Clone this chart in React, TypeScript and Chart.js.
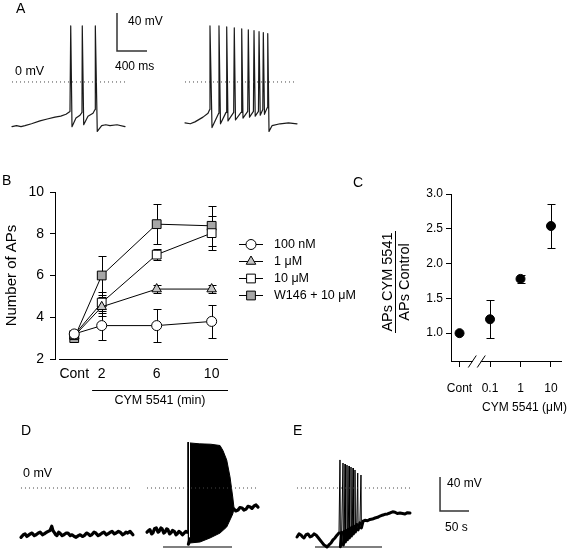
import React, { useEffect, useRef } from 'react';
import { Chart, registerables } from 'chart.js';

Chart.register(...registerables);

const FONT = '"Liberation Sans", Arial, Helvetica, sans-serif';
Chart.defaults.font.family = FONT;
Chart.defaults.color = '#000';

// ================= Panel B data (number of APs vs time) =================
const bTimes = [0, 2, 6, 10]; // minutes, 0 = control
const bTickLabels = ['Cont', '2', '6', '10'];
const bLabels = ['100 nM', '1 μM', '10 μM', 'W146 + 10 μM'];
const b100nM = [3.2, 3.6, 3.6, 3.8];
const b100nMErr = [0.15, 0.7, 0.8, 0.8];
const b1uM = [3.1, 4.5, 5.35, 5.35];
const b1uMErr = [0.12, 0.45, 0.19, 0.19];
const b10uM = [3.15, 4.7, 7.0, 8.03];
const b10uMErr = [0.12, 0.5, 0.25, 0.83];
const bW146 = [3.0, 6.0, 8.46, 8.38];
const bW146Err = [0.1, 0.93, 0.96, 0.95];

// ================= Panel C data (ratio vs dose) =================
const cDoses = [0.01, 0.1, 1, 10]; // 0.01 stands for control position
const cTickLabels = ['Cont', '0.1', '1', '10'];
const cRatio = [1.0, 1.2, 1.78, 2.54];
const cRatioErr = [0, 0.27, 0.06, 0.31];
const cYTicks = [1.0, 1.5, 2.0, 2.5, 3.0];

// ================= Panel A traces [ms, mV] =================
const aLeftTrace = [
  [0, -47], [60, -46], [120, -47], [173, -46], [260, -44], [373, -41], [470, -39], [573, -37],
  [650, -36], [720, -34], [773, -31],
  [783, 59], [800, -47], [853, -38], [907, -35], [933, -32],
  [937, 59], [956, -45], [1013, -36], [1080, -33], [1107, -29],
  [1111, 59], [1137, -52], [1196, -46], [1250, -45], [1307, -46], [1400, -45], [1507, -47],
];
const aRightTrace = [
  [0, -43], [70, -44], [133, -42], [240, -37], [307, -33], [329, -29],
  [333, 59], [360, -48], [449, -33],
  [453, 59], [473, -44], [547, -32],
  [556, 58], [573, -41], [649, -32],
  [657, 57], [673, -40], [747, -32],
  [756, 56], [773, -38], [836, -31],
  [844, 55], [860, -37], [912, -31],
  [920, 54], [936, -36], [979, -31],
  [987, 53], [1003, -35], [1037, -29],
  [1044, 52], [1059, -34], [1096, -27],
  [1103, 51], [1120, -52], [1160, -46], [1267, -44], [1380, -43], [1493, -44],
];
const aZeroLeft = [[0, 0], [1507, 0]];
const aZeroRight = [[0, 0], [1493, 0]];
const aScaleBar = [[1800, 32.6], [1400, 32.6], [1400, 72.6]]; // 400 ms, 40 mV

// ================= Panel D / E traces [s, mV] =================
const dLeftTrace = [
  [0, -58], [4, -55], [7, -54], [10, -57], [12, -56], [16, -54], [19, -53], [23, -56], [26, -55],
  [30, -53], [33, -52], [37, -55], [40, -54], [44, -52], [47, -51], [50, -50], [53, -45], [55, -50],
  [57, -52], [60, -55], [62, -56], [65, -52], [67, -53], [71, -56], [74, -55], [78, -53], [81, -53],
  [85, -56], [88, -55], [92, -57], [95, -58], [99, -56], [102, -55], [106, -57], [109, -56],
  [113, -53], [116, -54], [119, -56], [122, -55], [126, -52], [129, -53], [133, -56], [136, -55],
  [140, -53], [143, -52], [147, -55], [150, -54], [154, -52], [157, -51], [161, -54], [164, -53],
  [168, -51], [171, -52], [175, -55], [178, -54], [181, -52], [184, -53], [188, -51], [193, -55],
];
const dRightTrace = [
  [0, -52], [3, -50], [5, -49], [8, -54], [10, -53], [13, -48], [16, -47], [19, -52], [21, -51],
  [24, -47], [26, -48], [29, -53], [31, -52], [34, -48], [36, -49], [39, -54], [41, -53], [44, -50],
  [47, -51], [50, -55], [52, -54], [55, -51], [57, -52], [61, -55], [64, -53], [67, -51], [69, -52],
  [70.2, -52], [70.7, 54], [71.4, -66], [74.1, -60],
  [150, -24.7], [153, -27], [157, -25.9], [160, -23], [164, -23.5], [167, -26], [171, -24.7],
  [174, -21.5], [178, -22.4], [181, -24], [184.5, -21.2], [188, -20], [191.4, -22.4],
];
const dBurstTop = [
  [74.1, 53], [90, 52], [110, 51.5], [125.9, 50], [131, 44], [137.4, 33], [143.1, 13],
  [147.8, -10.6], [150, -23.5],
];
const dBurstBottom = [
  [74.1, -64.7], [91.4, -63.5], [108.6, -58.8], [125.9, -53], [137.4, -45.9], [143.1, -37.6],
  [147.8, -30.6], [150, -24.7],
];
const eTrace = [
  [0, -57.6], [3.5, -54], [6.9, -55.3], [9.5, -57.5], [12.1, -58.8], [15.5, -55], [19, -54.1],
  [22.5, -57.5], [25.9, -56.5], [29.3, -54], [32.8, -55.3], [36, -58], [39.7, -61.2], [43, -64],
  [46.6, -67.1], [49, -68], [51.7, -69.4], [55, -67], [58.6, -64.7], [62, -61], [65.5, -58.8],
  [69, -55.5], [72.4, -52.9],
  [74.1, 33], [74.8, -69], [77, -52],
  [79.3, 29.4], [80, -67], [81.5, -51],
  [82.8, 28.2], [83.5, -63.5], [85, -50],
  [86.2, 27], [86.9, -61], [88.5, -48.5],
  [89.7, 25.9], [90.4, -58.8], [92, -47],
  [93.1, 24.7], [93.8, -56.5], [95.4, -46],
  [96.6, 23.5], [97.3, -54], [98.8, -45],
  [100, 21.2], [100.7, -51.8], [103, -43],
  [104.7, 17.6], [105.4, -49.4], [108.5, -41],
  [110.3, 15.3], [111, -47], [114, -39],
  [117.2, -38], [121.5, -38.5], [125.9, -37], [130, -36.5], [134.5, -35.3], [139, -34.5],
  [143.1, -33], [147, -32], [151.7, -31], [156, -30.5], [160.3, -29.4], [165, -28],
  [169, -28.5], [173, -30], [177.6, -29.4], [182, -30], [186.2, -30.6], [190.5, -29], [194.8, -29.4],
];
const dZeroLeft = [[0, 0], [193, 0]];
const dZeroRight = [[0, 0], [191, 0]];
const eZero = [[0, 0], [195, 0]];
const dDrugBar = [[27.6, -69.4], [146.6, -69.4]];
const eDrugBar = [[31, -69.4], [146.6, -69.4]];
const eScaleBar = [[246.6, 12.9], [246.6, -27.1], [296.6, -27.1]]; // 40 mV, 50 s

// ================= helpers =================
const xy = (a: number[][]) => a.map(([x, y]) => ({ x, y }));
const traceDS = (a: number[][], w = 1, color = '#1a1a1a') => ({
  data: xy(a), borderColor: color, borderWidth: w, pointRadius: 0, fill: false,
  borderJoinStyle: 'round', borderCapStyle: 'round',
});
const thickTraceDS = (a: number[][], w = 3.2) => ({
  ...traceDS(a, w, '#000'),
  segment: {
    borderWidth: (c: any) => (Math.abs(c.p1.parsed.y - c.p0.parsed.y) > 25 ? 1 : w),
  },
});
const dotDS = (a: number[][]) => ({
  data: xy(a), borderColor: '#444', borderWidth: 1, borderDash: [1, 3], pointRadius: 0, fill: false,
});
const barDS = (a: number[][], color = '#555', w = 1.5) => ({
  data: xy(a), borderColor: color, borderWidth: w, pointRadius: 0, fill: false,
});

function traceChart(xMin: number, xMax: number, yMin: number, yMax: number, datasets: any[]) {
  return () => ({
    type: 'line',
    data: { datasets },
    options: {
      animation: false, responsive: false, events: [],
      layout: { padding: 0 },
      plugins: { legend: { display: false }, tooltip: { enabled: false } },
      scales: {
        x: { type: 'linear', min: xMin, max: xMax, display: false },
        y: { type: 'linear', min: yMin, max: yMax, display: false },
      },
      elements: { point: { radius: 0 }, line: { tension: 0 } },
    },
  });
}

function marker(ctx: CanvasRenderingContext2D, style: string, x: number, y: number, r: number, fill: string) {
  ctx.beginPath();
  if (style === 'circle') {
    ctx.arc(x, y, r, 0, Math.PI * 2);
  } else if (style === 'triangle') {
    let rad = 0;
    ctx.moveTo(x + Math.sin(rad) * r, y - Math.cos(rad) * r);
    rad += (2 * Math.PI) / 3;
    ctx.lineTo(x + Math.sin(rad) * r, y - Math.cos(rad) * r);
    rad += (2 * Math.PI) / 3;
    ctx.lineTo(x + Math.sin(rad) * r, y - Math.cos(rad) * r);
  } else {
    const s = r * Math.SQRT1_2;
    ctx.rect(x - s, y - s, 2 * s, 2 * s);
  }
  ctx.closePath();
  ctx.fillStyle = fill;
  ctx.fill();
  ctx.strokeStyle = '#000';
  ctx.lineWidth = 1;
  ctx.stroke();
}

const errorBars = {
  id: 'errbars',
  beforeDatasetsDraw(chart: any, _a: any, opts: any) {
    const { ctx, scales } = chart;
    const xs = scales.x, ys = scales.y;
    const cap = opts && opts.cap ? opts.cap : 4;
    ctx.save();
    ctx.strokeStyle = '#000';
    ctx.lineWidth = 1;
    chart.data.datasets.forEach((ds: any) => {
      if (!ds.errors) return;
      ds.data.forEach((p: any, j: number) => {
        const e = ds.errors[j];
        if (!e) return;
        const px = Math.round(xs.getPixelForValue(p.x)) + 0.5;
        const y1 = Math.round(ys.getPixelForValue(p.y + e)) + 0.5;
        const y2 = Math.round(ys.getPixelForValue(p.y - e)) + 0.5;
        ctx.beginPath();
        ctx.moveTo(px, y1); ctx.lineTo(px, y2);
        ctx.moveTo(px - cap, y1); ctx.lineTo(px + cap, y1);
        ctx.moveTo(px - cap, y2); ctx.lineTo(px + cap, y2);
        ctx.stroke();
      });
    });
    ctx.restore();
  },
};

const bExtras = {
  id: 'bExtras',
  afterDraw(chart: any) {
    const { ctx, chartArea, scales } = chart;
    const xs = scales.x;
    ctx.save();
    ctx.strokeStyle = '#000';
    ctx.lineWidth = 1;
    const yb = Math.round(chartArea.bottom) + 0.5;
    ctx.beginPath();
    ctx.moveTo(chartArea.left + 4, yb);
    ctx.lineTo(chartArea.right, yb);
    ctx.stroke();
    const yl = yb + 31;
    ctx.beginPath();
    ctx.moveTo(xs.getPixelForValue(1.3), yl);
    ctx.lineTo(chartArea.right, yl);
    ctx.stroke();
    chart.data.datasets.forEach((ds: any, i: number) => {
      const ly = 74 + 17 * i + 0.5;
      ctx.strokeStyle = '#000';
      ctx.lineWidth = 1;
      ctx.beginPath();
      ctx.moveTo(239, ly);
      ctx.lineTo(263, ly);
      ctx.stroke();
      marker(ctx, ds.pointStyle, 251, ly, ds.pointRadius, ds.pointBackgroundColor);
      ctx.fillStyle = '#000';
      ctx.font = `12.5px ${FONT}`;
      ctx.textBaseline = 'middle';
      ctx.fillText(ds.label, 274, ly);
    });
    ctx.restore();
  },
};

const cExtras = {
  id: 'cExtras',
  afterDraw(chart: any) {
    const { ctx, chartArea, scales } = chart;
    const xs = scales.x;
    const cx = (xs.getPixelForValue(cDoses[0]) + xs.getPixelForValue(cDoses[1])) / 2 + 2;
    const y = Math.round(chartArea.bottom) + 0.5;
    ctx.save();
    ctx.strokeStyle = '#fff';
    ctx.lineWidth = 3;
    ctx.beginPath();
    ctx.moveTo(cx - 4, y);
    ctx.lineTo(cx + 4, y);
    ctx.stroke();
    ctx.strokeStyle = '#000';
    ctx.lineWidth = 1;
    [-4.5, 4.5].forEach((d) => {
      ctx.beginPath();
      ctx.moveTo(cx + d - 4, y + 6);
      ctx.lineTo(cx + d + 4, y - 6);
      ctx.stroke();
    });
    ctx.restore();
  },
};

function bConfig() {
  const series = [
    { values: b100nM, errors: b100nMErr, style: 'circle', fill: '#ffffff', r: 5 },
    { values: b1uM, errors: b1uMErr, style: 'triangle', fill: '#c4c4c4', r: 5.5 },
    { values: b10uM, errors: b10uMErr, style: 'rect', fill: '#ffffff', r: 6.2 },
    { values: bW146, errors: bW146Err, style: 'rect', fill: '#a6a6a6', r: 6.2 },
  ];
  const datasets = series.map((s, k) => ({
    label: bLabels[k],
    data: bTimes.map((t, i) => ({ x: t, y: s.values[i] })),
    errors: s.errors,
    borderColor: '#000',
    borderWidth: 1,
    pointStyle: s.style,
    pointRadius: s.r,
    pointBackgroundColor: s.fill,
    pointBorderColor: '#000',
    pointBorderWidth: 1,
    tension: 0,
    fill: false,
  }));
  return {
    type: 'line',
    data: { datasets },
    options: {
      animation: false, responsive: false, events: [],
      layout: { padding: { top: 22, right: 127, left: 0, bottom: 0 } },
      plugins: { legend: { display: false }, tooltip: { enabled: false }, errbars: { cap: 4 } },
      scales: {
        x: {
          type: 'linear', min: -1.4, max: 11.19,
          afterBuildTicks: (s: any) => { s.ticks = bTimes.map((v) => ({ value: v })); },
          afterFit: (s: any) => { s.height = 61; },
          grid: { display: false, drawTicks: false },
          border: { display: false },
          ticks: {
            callback: (_v: any, i: number) => bTickLabels[i],
            font: { size: 14, family: FONT }, color: '#000', padding: 7,
            maxRotation: 0, autoSkip: false,
          },
        },
        y: {
          type: 'linear', min: 2, max: 10,
          afterFit: (s: any) => { s.width = 55; },
          ticks: { stepSize: 2, font: { size: 14, family: FONT }, color: '#000', padding: 6 },
          grid: { display: true, drawOnChartArea: false, drawTicks: true, tickLength: 5, color: '#000' },
          border: { display: true, color: '#000', width: 1 },
          title: {
            display: true, text: 'Number of APs', color: '#000',
            font: { size: 15, family: FONT }, padding: { top: 3, bottom: 0 },
          },
        },
      },
    },
    plugins: [errorBars, bExtras],
  };
}

function cConfig() {
  return {
    type: 'line',
    data: {
      datasets: [{
        data: cDoses.map((d, i) => ({ x: d, y: cRatio[i] })),
        errors: cRatioErr,
        showLine: false,
        pointStyle: 'circle',
        pointRadius: 4.5,
        pointBackgroundColor: '#000',
        pointBorderColor: '#000',
        pointBorderWidth: 1,
      }],
    },
    options: {
      animation: false, responsive: false, events: [],
      layout: { padding: { top: 24, right: 0, left: 0, bottom: 0 } },
      plugins: { legend: { display: false }, tooltip: { enabled: false }, errbars: { cap: 4 } },
      scales: {
        x: {
          type: 'logarithmic', min: 0.00525, max: 22.1,
          afterBuildTicks: (s: any) => { s.ticks = cDoses.map((v) => ({ value: v })); },
          afterFit: (s: any) => { s.height = 59; },
          grid: { display: true, drawOnChartArea: false, drawTicks: true, tickLength: 6, color: '#000' },
          border: { display: true, color: '#000', width: 1 },
          ticks: {
            callback: (_v: any, i: number) => cTickLabels[i],
            font: { size: 12, family: FONT, lineHeight: 3.1 }, color: '#000', padding: 3,
            maxRotation: 0, autoSkip: false,
          },
        },
        y: {
          type: 'linear', min: 0.6, max: 3.0,
          afterBuildTicks: (s: any) => { s.ticks = cYTicks.map((v) => ({ value: v })); },
          afterFit: (s: any) => { s.width = 91; },
          ticks: {
            callback: (v: any) => Number(v).toFixed(1),
            font: { size: 12, family: FONT }, color: '#000', padding: 3,
          },
          grid: { display: true, drawOnChartArea: false, drawTicks: true, tickLength: 5, color: '#000' },
          border: { display: true, color: '#000', width: 1 },
        },
      },
    },
    plugins: [errorBars, cExtras],
  };
}

function ChartCanvas({ left, top, width, height, make }: any) {
  const ref = useRef<HTMLCanvasElement>(null);
  useEffect(() => {
    const chart = new Chart(ref.current as HTMLCanvasElement, make() as any);
    return () => chart.destroy();
  }, []);
  return (
    <canvas
      ref={ref}
      width={width}
      height={height}
      style={{ position: 'absolute', left, top, width, height }}
    />
  );
}

function Label({ text, left, cy, size = 12, style = {} }: any) {
  return (
    <div
      style={{
        position: 'absolute', left, top: cy - size * 0.6, fontSize: size,
        lineHeight: `${size * 1.2}px`, whiteSpace: 'nowrap', fontFamily: FONT, color: '#000',
        ...style,
      }}
    >
      {text}
    </div>
  );
}

// Panel A scale: 0.075 px/ms, 0.95 px/mV ; Panel D/E: 0.58 px/s, 0.85 px/mV
const aLeftChart = traceChart(-160, 2240, -71.6, 86.3, [
  dotDS(aZeroLeft), traceDS(aLeftTrace, 1.2), barDS(aScaleBar, '#333', 1.5),
]);
const aRightChart = traceChart(-66.7, 1533, -71.6, 86.3, [
  dotDS(aZeroRight), traceDS(aRightTrace, 1.2),
]);
const dLeftChart = traceChart(-36.2, 205.2, -72.94, 80, [
  dotDS(dZeroLeft), thickTraceDS(dLeftTrace, 3.2),
]);
const dRightChart = traceChart(-12.07, 229.3, -72.94, 80, [
  dotDS(dZeroRight),
  thickTraceDS(dRightTrace, 3.2),
  { data: xy(dBurstTop), borderColor: '#000', borderWidth: 1, pointRadius: 0, fill: false },
  { data: xy(dBurstBottom), borderColor: '#000', borderWidth: 1, pointRadius: 0, fill: '-1', backgroundColor: '#000' },
  barDS(dDrugBar),
]);
const eChart = traceChart(-29.31, 350, -72.94, 80, [
  dotDS(eZero), thickTraceDS(eTrace, 3), barDS(eDrugBar), barDS(eScaleBar, '#333', 1.5),
]);

export default function App() {
  return (
    <div style={{ position: 'absolute', left: 0, top: 0, width: 567, height: 550, background: '#fff', overflow: 'hidden', fontFamily: FONT }}>
      <ChartCanvas left={0} top={0} width={180} height={150} make={aLeftChart} />
      <ChartCanvas left={180} top={0} width={120} height={150} make={aRightChart} />
      <ChartCanvas left={0} top={170} width={355} height={250} make={bConfig} />
      <ChartCanvas left={360} top={170} width={207} height={250} make={cConfig} />
      <ChartCanvas left={0} top={420} width={140} height={130} make={dLeftChart} />
      <ChartCanvas left={140} top={420} width={140} height={130} make={dRightChart} />
      <ChartCanvas left={280} top={420} width={220} height={130} make={eChart} />

      <Label text="A" left={16} cy={8} size={14} />
      <Label text="40 mV" left={128} cy={21} size={12} />
      <Label text="400 ms" left={115} cy={66} size={12} />
      <Label text="0 mV" left={15} cy={71} size={12.5} />

      <Label text="B" left={2} cy={180} size={14} />
      <div style={{ position: 'absolute', left: 100, width: 120, top: 400 - 7.5, fontSize: 12.5, lineHeight: '15px', textAlign: 'center', whiteSpace: 'nowrap', fontFamily: FONT }}>
        CYM 5541 (min)
      </div>

      <Label text="C" left={353} cy={182} size={14} />
      <div
        style={{
          position: 'absolute', left: 396 - 51, top: 282 - 17, width: 102, height: 34,
          transform: 'rotate(-90deg)', transformOrigin: '50% 50%', fontSize: 14.5,
          lineHeight: '16px', textAlign: 'center', fontFamily: FONT, whiteSpace: 'nowrap',
        }}
      >
        <div style={{ borderBottom: '1px solid #000' }}>APs CYM 5541</div>
        <div>APs Control</div>
      </div>
      <div style={{ position: 'absolute', right: 0, top: 407 - 7, fontSize: 12, lineHeight: '14px', whiteSpace: 'nowrap', fontFamily: FONT }}>
        CYM 5541 (μM)
      </div>

      <Label text="D" left={21} cy={430} size={14} />
      <Label text="0 mV" left={23} cy={473} size={12.5} />
      <Label text="E" left={293} cy={430} size={14} />
      <Label text="40 mV" left={447} cy={483} size={12} />
      <Label text="50 s" left={445} cy={527} size={12} />
    </div>
  );
}
